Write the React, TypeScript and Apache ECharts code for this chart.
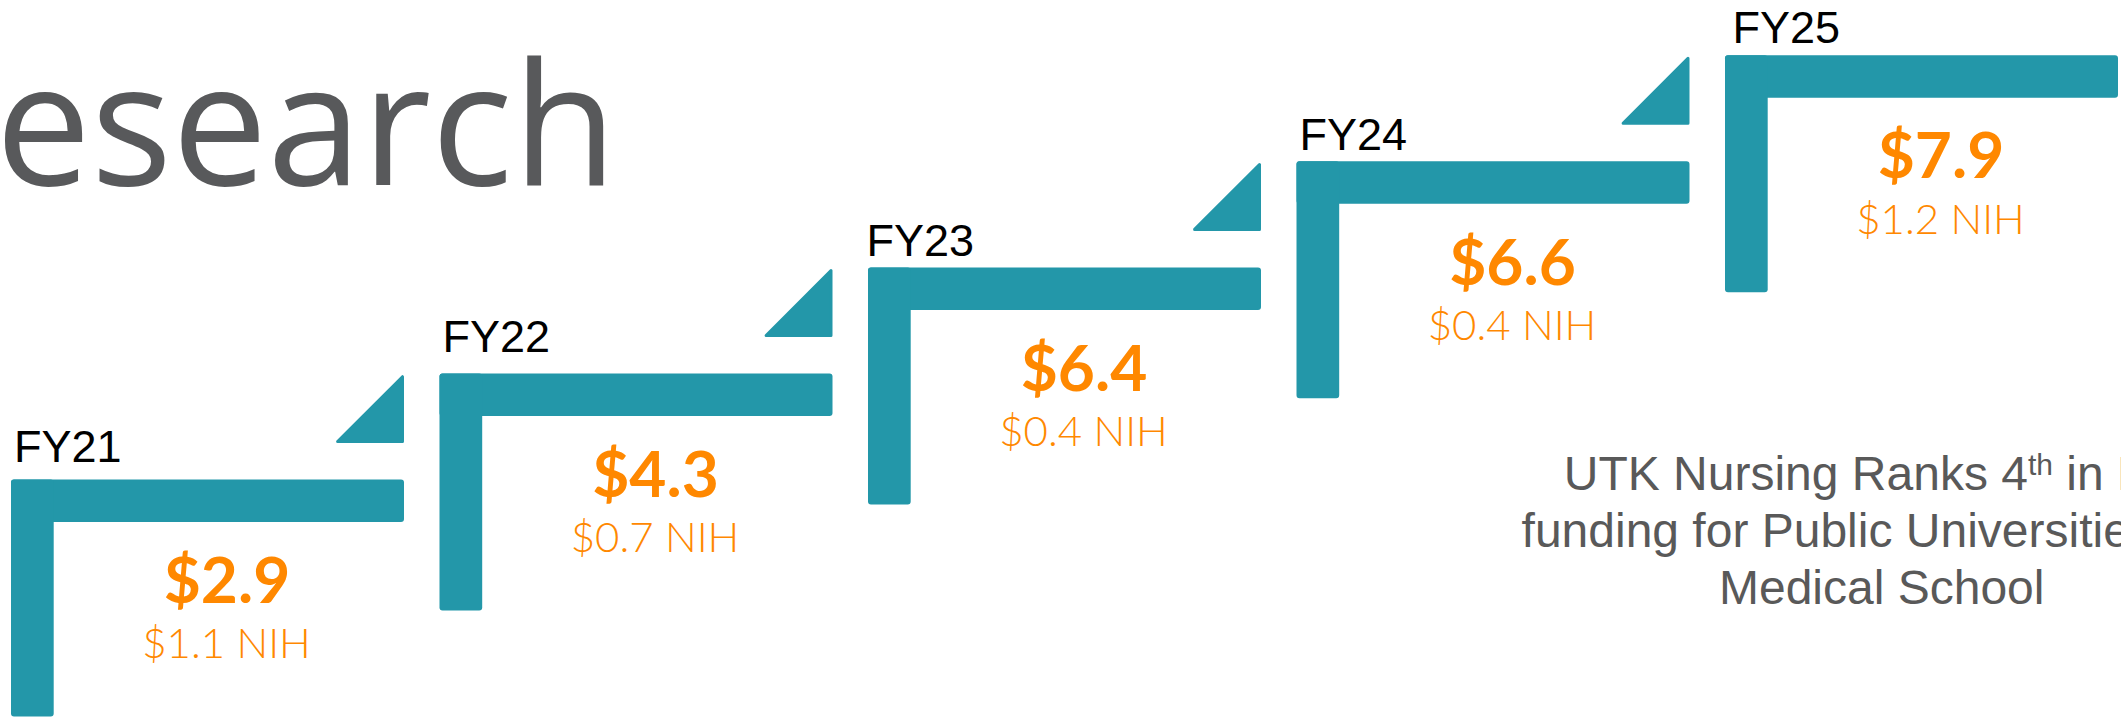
import React, { useEffect, useRef } from "react";
import * as echarts from "echarts";

// ---- data ----
const FISCAL_YEARS = ["FY21", "FY22", "FY23", "FY24", "FY25"];
const TOTAL_FUNDING = [2.9, 4.3, 6.4, 6.6, 7.9]; // $M total research funding
const NIH_FUNDING = [1.1, 0.7, 0.4, 0.4, 1.2]; // $M NIH funding
const STEP_LEVEL = [0, 1, 2, 3, 4]; // staircase position of each year
const TITLE = "Research";
const NOTE_LINE1 = ["UTK Nursing Ranks 4", "th", " in NIH"];
const NOTE_LINE2 = "funding for Public Universities w/o";
const NOTE_LINE3 = "Medical School";

// ---- style ----
const TEAL = "#2397A9";
const ORANGE = "#FF8800";
const GRAY = "#58595B";
const NOTE_GRAY = "#595959";
const BAR_LEN = 393;
const BAR_T = 42.5;
const POST_W = 42.7;
const POST_LEN = 237;
const TRI = 70;
const TRI_GAP = 36.5;
const LABEL_DX = [3, 3, -1.5, 3, 7.5];
const LABEL_GAP = [17.6, 21.6, 11, 11.7, 12.3];
const ARIAL = 'Arial, "Liberation Sans", sans-serif';
const GEO = 'Lato, "Open Sans", sans-serif';
const TITLE_FONT = '"Open Sans", "DejaVu Sans", sans-serif';
const TITLE_SIZE = 170;
const K_ARIAL = 0.3465;
const K_LATO = 0.387;
const K_OPEN = 0.388;

export default function App() {
  const ref = useRef<HTMLDivElement>(null);
  useEffect(() => {
    if (!ref.current) return;
    const chart = echarts.init(ref.current, undefined, { renderer: "svg" });
    const n = FISCAL_YEARS.length;
    const data = FISCAL_YEARS.map((fy, i) => [STEP_LEVEL[i], STEP_LEVEL[i], TOTAL_FUNDING[i], NIH_FUNDING[i]]);

    const option: any = {
      animation: false,
      backgroundColor: "#ffffff",
      grid: { left: 0, right: 0, top: 0, bottom: 0, containLabel: false },
      xAxis: { type: "value", min: -0.02567, max: 4.92415, show: false },
      yAxis: { type: "value", min: -2.24694, max: 4.52026, show: false },
      graphic: [
        {
          type: "text",
          x: 617,
          y: 185 - K_OPEN * TITLE_SIZE,
          silent: true,
          style: {
            text: TITLE,
            fill: GRAY,
            fontSize: TITLE_SIZE,
            fontFamily: TITLE_FONT,
            fontWeight: 400,
            align: "right",
            verticalAlign: "middle",
          },
        },
        {
          type: "text",
          x: 1881.7,
          y: 490 - K_ARIAL * 48,
          silent: true,
          style: {
            text: `{a|${NOTE_LINE1[0]}}{s|${NOTE_LINE1[1]}}{a|${NOTE_LINE1[2]}}`,
            align: "center",
            verticalAlign: "middle",
            rich: {
              a: { fontSize: 48, fontFamily: ARIAL, fill: NOTE_GRAY, color: NOTE_GRAY, lineHeight: 48 },
              s: { fontSize: 30, fontFamily: ARIAL, fill: NOTE_GRAY, color: NOTE_GRAY, lineHeight: 30, verticalAlign: "top" },
            },
          },
        },
        {
          type: "text",
          x: 1881.7,
          y: 547.3 - K_ARIAL * 48,
          silent: true,
          style: { text: NOTE_LINE2, fontSize: 48, fontFamily: ARIAL, fill: NOTE_GRAY, align: "center", verticalAlign: "middle" },
        },
        {
          type: "text",
          x: 1881.7,
          y: 604 - K_ARIAL * 48,
          silent: true,
          style: { text: NOTE_LINE3, fontSize: 48, fontFamily: ARIAL, fill: NOTE_GRAY, align: "center", verticalAlign: "middle" },
        },
      ],
      series: [
        {
          type: "custom",
          coordinateSystem: "cartesian2d",
          silent: true,
          clip: false,
          data,
          renderItem: (params: any, api: any) => {
            const i = params.dataIndex;
            const p = api.coord([api.value(0), api.value(1)]);
            const x0 = p[0];
            const y0 = p[1];
            const total = api.value(2);
            const nih = api.value(3);
            const children: any[] = [
              { type: "rect", shape: { x: x0, y: y0, width: BAR_LEN, height: BAR_T, r: 3 }, style: { fill: TEAL } },
              { type: "rect", shape: { x: x0, y: y0, width: POST_W, height: POST_LEN, r: 3 }, style: { fill: TEAL } },
            ];
            if (i < n - 1) {
              const R = x0 + BAR_LEN;
              const B = y0 - TRI_GAP;
              children.push({
                type: "polygon",
                shape: {
                  points: [
                    [R - 1.5, B - 1.5],
                    [R - TRI + 3.6, B - 1.5],
                    [R - 1.5, B - TRI + 3.6],
                  ],
                },
                style: { fill: TEAL, stroke: TEAL, lineWidth: 3, lineJoin: "round" },
              });
            }
            children.push({
              type: "text",
              x: x0 + LABEL_DX[i],
              y: y0 - LABEL_GAP[i] - K_ARIAL * 45,
              style: { text: FISCAL_YEARS[i], fill: "#000000", fontSize: 45, fontFamily: ARIAL, align: "left", verticalAlign: "middle" },
            });
            children.push({
              type: "text",
              x: x0 + 216,
              y: y0 + 123.5 - K_LATO * 64,
              style: { text: `$${total.toFixed(1)}`, fill: ORANGE, fontSize: 64, fontFamily: GEO, fontWeight: 700, align: "center", verticalAlign: "middle" },
            });
            children.push({
              type: "text",
              x: x0 + 215.5,
              y: y0 + 179 - K_LATO * 42,
              style: { text: `$${nih.toFixed(1)} NIH`, fill: ORANGE, fontSize: 42, fontFamily: GEO, fontWeight: 300, align: "center", verticalAlign: "middle" },
            });
            return { type: "group", children };
          },
        },
      ],
    };
    chart.setOption(option);
    return () => chart.dispose();
  }, []);
  return (
    <div
      ref={ref}
      style={{ position: "fixed", left: 0, top: 0, width: 2121, height: 718, background: "#fff" }}
    />
  );
}
